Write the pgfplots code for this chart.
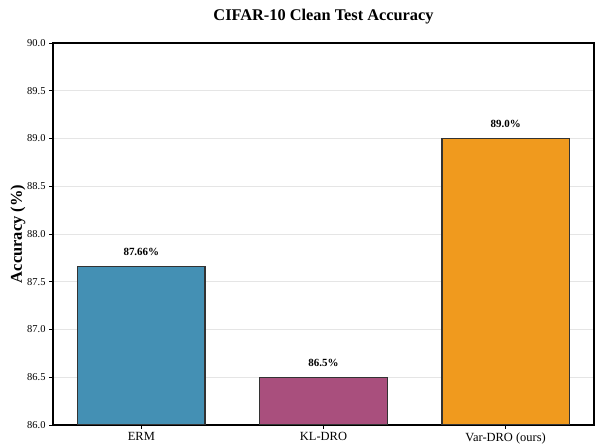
\documentclass[border=0pt]{standalone}
\usepackage{fontspec}
\setmainfont{Liberation Serif}
\usepackage{pgfplots}
\pgfplotsset{compat=1.18}
\definecolor{cerm}{HTML}{4490B4}
\definecolor{ckl}{HTML}{A94F7D}
\definecolor{cvar}{HTML}{F09A1E}
\definecolor{cedge}{HTML}{333333}
\begin{document}
\begin{tikzpicture}
\path[use as bounding box] (0bp,0bp) rectangle (596bp,447bp);
\begin{axis}[
  at={(53bp,22bp)}, anchor=south west,
  scale only axis, width=541bp, height=382bp,
  xmin=-0.485, xmax=2.485, ymin=86, ymax=90,
  xtick={0,1,2}, xticklabels={ERM, KL-DRO, Var-DRO (ours)},
  ytick={86,86.5,...,90},
  /pgf/number format/assume math mode=true,
  yticklabel style={/pgf/number format/fixed, /pgf/number format/fixed zerofill, /pgf/number format/precision=1, font=\fontsize{10.5}{12}\selectfont},
  xticklabel style={font=\fontsize{12.5}{14}\selectfont},
  tick align=outside, tick pos=left, major tick length=4bp,
  tick style={black, line width=0.8bp},
  axis line style={black, line width=1.2bp},
  ymajorgrids, major grid style={black!10, line width=0.6bp},
  title={CIFAR-10 Clean Test Accuracy},
  title style={font=\bfseries\fontsize{16.4}{19}\selectfont, at={(axis description cs:0.5,1)}, anchor=center, yshift=20.5bp},
  ylabel={Accuracy (\%)},
  ylabel style={font=\bfseries\fontsize{16.5}{19}\selectfont, at={(axis description cs:-0.0647,0.5)}, anchor=center},
  bar width=0.7,
  nodes near coords, point meta=explicit symbolic,
  every node near coord/.append style={font=\bfseries\fontsize{11}{13}\selectfont, anchor=south, inner sep=0pt, yshift=10bp, black},
]
\addplot[ybar, fill=cerm, draw=cedge, line width=1.3bp] coordinates {(0,87.66) [87.66\%]};
\addplot[ybar, fill=ckl, draw=cedge, line width=1.3bp] coordinates {(1,86.5) [86.5\%]};
\addplot[ybar, fill=cvar, draw=cedge, line width=1.3bp] coordinates {(2,89.0) [89.0\%]};
\end{axis}
\end{tikzpicture}
\end{document}
